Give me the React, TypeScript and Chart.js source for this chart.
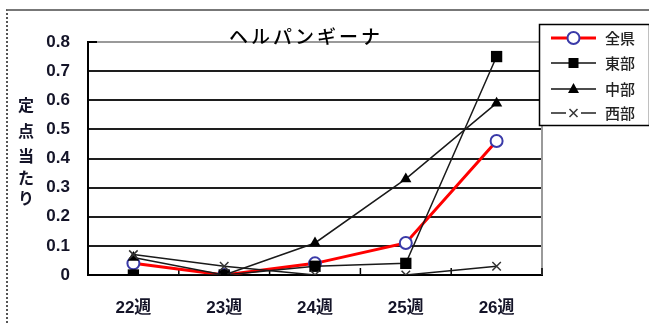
import React, { useEffect, useRef } from "react";
import { Chart, registerables } from "chart.js";

Chart.register(...registerables);

// Weekly reports per sentinel site, herpangina
const categories = ["22週", "23週", "24週", "25週", "26週"];
const zenken = [0.04, 0, 0.04, 0.11, 0.46]; // 全県
const toubu = [0, 0, 0.03, 0.04, 0.75]; // 東部
const chuubu = [0.06, 0, 0.11, 0.33, 0.59]; // 中部
const seibu = [0.07, 0.03, 0, 0, 0.03]; // 西部
const seriesNames = ["全県", "東部", "中部", "西部"];
const titleText = "ヘルパンギーナ";
const yTitleChars = ["定", "点", "当", "た", "り"];
const yMax = 0.8;
const yStep = 0.1;

const JP = '"Noto Sans CJK JP", "Liberation Sans", sans-serif';
const NUM = '"Liberation Sans", "Noto Sans CJK JP", sans-serif';
const INK = "#141428";

type Marker = "circle" | "rect" | "triangle" | "cross";

function drawMarker(ctx: CanvasRenderingContext2D, kind: Marker, x: number, y: number) {
  ctx.save();
  if (kind === "circle") {
    ctx.beginPath();
    ctx.arc(x, y, 6, 0, Math.PI * 2);
    ctx.fillStyle = "#fff";
    ctx.fill();
    ctx.lineWidth = 2;
    ctx.strokeStyle = "#3a3aa8";
    ctx.stroke();
  } else if (kind === "rect") {
    ctx.fillStyle = "#000";
    ctx.fillRect(x - 5, y - 5, 10, 10);
  } else if (kind === "triangle") {
    ctx.fillStyle = "#000";
    ctx.beginPath();
    ctx.moveTo(x, y - 6);
    ctx.lineTo(x + 5.5, y + 4);
    ctx.lineTo(x - 5.5, y + 4);
    ctx.closePath();
    ctx.fill();
  } else {
    ctx.strokeStyle = "#333";
    ctx.lineWidth = 1.5;
    ctx.beginPath();
    ctx.moveTo(x - 4, y - 4);
    ctx.lineTo(x + 4, y + 4);
    ctx.moveTo(x + 4, y - 4);
    ctx.lineTo(x - 4, y + 4);
    ctx.stroke();
  }
  ctx.restore();
}

const framePlugin = {
  id: "frameDecor",
  beforeDatasetsDraw(chart: any) {
    const { ctx, chartArea } = chart;
    const { left, right, top, bottom } = chartArea;
    ctx.save();
    // right border of the plot
    ctx.strokeStyle = "#9a9a9a";
    ctx.lineWidth = 2;
    ctx.beginPath();
    ctx.moveTo(right, top);
    ctx.lineTo(right, bottom);
    ctx.stroke();
    // inward category tick marks
    ctx.strokeStyle = "#000";
    ctx.lineWidth = 1.5;
    const n = categories.length;
    for (let i = 1; i <= n; i++) {
      const x = left + ((right - left) * i) / n;
      ctx.beginPath();
      ctx.moveTo(x, bottom);
      ctx.lineTo(x, bottom - 7);
      ctx.stroke();
    }
    // inward value tick at the top
    ctx.lineWidth = 2;
    ctx.beginPath();
    ctx.moveTo(left, top);
    ctx.lineTo(left + 9, top);
    ctx.stroke();
    ctx.restore();
  },
  afterDraw(chart: any) {
    const { ctx } = chart;
    ctx.save();
    // title
    ctx.fillStyle = "#000";
    ctx.font = `500 19px ${JP}`;
    ctx.textAlign = "center";
    ctx.textBaseline = "middle";
    (ctx as any).letterSpacing = "3px";
    ctx.fillText(titleText, 306, 37);
    (ctx as any).letterSpacing = "0px";

    // vertical axis title
    ctx.fillStyle = INK;
    ctx.font = `bold 16px ${JP}`;
    const ys = [105, 131, 156, 178, 198];
    yTitleChars.forEach((c, i) => ctx.fillText(c, 26, ys[i]));

    // legend
    const bx = 539.5, by = 24.5, bw = 110, bh = 101;
    ctx.fillStyle = "#fff";
    ctx.fillRect(bx, by, bw, bh);
    ctx.strokeStyle = "#000";
    ctx.lineWidth = 1.5;
    ctx.strokeRect(bx, by, bw, bh);
    const rows = [38, 63, 89, 113];
    const styles: { color: string; width: number; marker: Marker }[] = [
      { color: "#ff0000", width: 3, marker: "circle" },
      { color: "#111", width: 1.5, marker: "rect" },
      { color: "#111", width: 1.5, marker: "triangle" },
      { color: "#222", width: 1.5, marker: "cross" },
    ];
    rows.forEach((y, i) => {
      const s = styles[i];
      ctx.strokeStyle = s.color;
      ctx.lineWidth = s.width;
      ctx.beginPath();
      if (s.marker === "cross") {
        ctx.moveTo(551, y);
        ctx.lineTo(566, y);
        ctx.moveTo(581, y);
        ctx.lineTo(596, y);
      } else {
        ctx.moveTo(551, y);
        ctx.lineTo(596, y);
      }
      ctx.stroke();
      drawMarker(ctx, s.marker, 573.5, y);
      ctx.fillStyle = "#222";
      ctx.font = `500 15px ${JP}`;
      ctx.textAlign = "left";
      ctx.textBaseline = "middle";
      ctx.fillText(seriesNames[i], 605, y);
    });
    ctx.restore();
  },
};

export default function App() {
  const ref = useRef<HTMLCanvasElement | null>(null);

  useEffect(() => {
    if (!ref.current) return;
    const chart = new Chart(ref.current, {
      type: "line",
      data: {
        labels: categories,
        datasets: [
          {
            label: seriesNames[0],
            data: zenken,
            order: 4,
            borderColor: "#ff0000",
            borderWidth: 3,
            pointStyle: "circle",
            pointRadius: 6,
            pointBorderWidth: 2,
            pointBorderColor: "#3a3aa8",
            pointBackgroundColor: "#fff",
            tension: 0,
          },
          {
            label: seriesNames[1],
            data: toubu,
            order: 3,
            borderColor: "#1a1a1a",
            borderWidth: 1.5,
            pointStyle: "rect",
            pointRadius: 8,
            pointBorderWidth: 0,
            pointBackgroundColor: "#000",
            tension: 0,
          },
          {
            label: seriesNames[2],
            data: chuubu,
            order: 2,
            borderColor: "#1a1a1a",
            borderWidth: 1.5,
            pointStyle: "triangle",
            pointRadius: 6.5,
            pointBorderWidth: 0,
            pointBackgroundColor: "#000",
            tension: 0,
          },
          {
            label: seriesNames[3],
            data: seibu,
            order: 1,
            borderColor: "#1a1a1a",
            borderWidth: 1.5,
            pointStyle: "crossRot",
            pointRadius: 6,
            pointBorderWidth: 1.5,
            pointBorderColor: "#333",
            tension: 0,
          },
        ],
      },
      options: {
        responsive: false,
        animation: false,
        devicePixelRatio: 1,
        layout: { padding: { left: 0, right: 107, top: 42, bottom: 0 } },
        plugins: {
          legend: { display: false },
          title: { display: false },
          tooltip: { enabled: false },
        },
        scales: {
          x: {
            offset: true,
            grid: { display: false, drawTicks: false },
            border: { display: true, color: "#000", width: 2 },
            ticks: {
              padding: 23,
              color: INK,
              font: { family: NUM, size: 17, weight: "bold" },
            },
            afterFit: (s: any) => {
              s.height = 48;
            },
          },
          y: {
            min: 0,
            max: yMax,
            grid: {
              drawTicks: false,
              color: (c: any) => (c.tick && Math.abs(c.tick.value - yMax) < 1e-6 ? "#9a9a9a" : "#1e1e1e"),
              lineWidth: 2,
            },
            border: { display: true, color: "#000", width: 2 },
            ticks: {
              stepSize: yStep,
              padding: 18,
              color: INK,
              font: { family: NUM, size: 17, weight: "bold" },
              callback: (v: any) => (Math.abs(v) < 1e-9 ? "0" : Number(v).toFixed(1)),
            },
            afterFit: (s: any) => {
              s.width = 88;
            },
          },
        },
      },
      plugins: [framePlugin],
    });
    return () => chart.destroy();
  }, []);

  return (
    <div style={{ position: "absolute", left: 0, top: 0, width: 649, height: 323, background: "#fff", overflow: "hidden" }}>
      <canvas ref={ref} width={649} height={323} style={{ display: "block" }} />
      <div
        style={{
          position: "absolute",
          left: 6,
          top: 9,
          width: 700,
          height: 400,
          borderLeft: "2px dotted #555",
          borderTop: "2px solid #777",
          pointerEvents: "none",
        }}
      />
    </div>
  );
}
